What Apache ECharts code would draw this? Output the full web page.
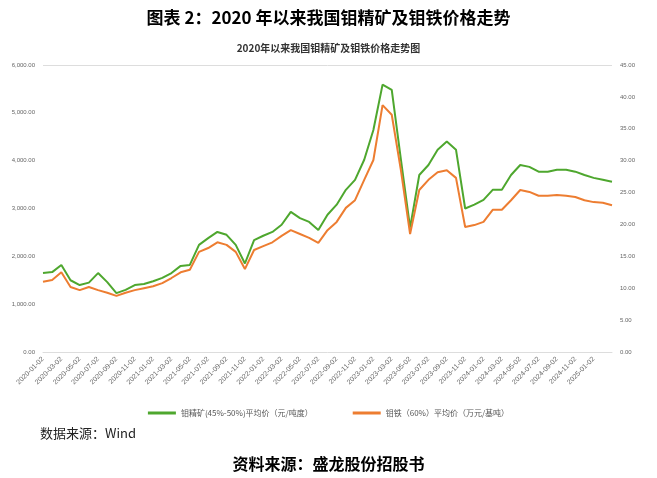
<!DOCTYPE html><html><head><meta charset="utf-8">
<script src="https://cdn.jsdelivr.net/npm/echarts@6/dist/echarts.min.js"></script>
<style>body{margin:0;background:#fff}#c{width:657px;height:478px}</style></head><body><div id="c"></div>
<script>
const months=[];
for(let y=2020;y<=2025;y++)for(let m=1;m<=12;m++){if(y===2025&&m>3)break;months.push(y+'-'+String(m).padStart(2,'0')+'-02');}
const moConc=[1650,1670,1820,1500,1400,1450,1650,1460,1230,1300,1400,1420,
1480,1550,1650,1800,1820,2240,2380,2510,2450,2240,1850,2340,
2430,2510,2660,2930,2800,2720,2550,2870,3080,3390,3600,4020,
4640,5590,5480,4020,2600,3700,3910,4230,4400,4230,3000,3080,
3180,3390,3390,3700,3910,3870,3770,3770,3810,3810,3770,3700,
3640,3600,3560];
const feMo=[11.0,11.3,12.5,10.2,9.7,10.2,9.7,9.3,8.8,9.3,9.7,10.0,
10.3,10.8,11.6,12.5,12.9,15.7,16.3,17.2,16.8,15.7,13.0,16.0,
16.6,17.2,18.2,19.1,18.5,17.9,17.1,19.1,20.4,22.6,23.8,27.0,
30.1,38.7,37.2,28.5,18.5,25.4,27.0,28.2,28.5,27.3,19.6,19.9,
20.4,22.3,22.3,23.8,25.4,25.1,24.5,24.5,24.6,24.5,24.3,23.8,
23.5,23.4,23.0];
const serif='"Noto Sans CJK SC", sans-serif';
const ch=echarts.init(document.getElementById('c'));
const fmt=v=>v.toLocaleString('en-US',{minimumFractionDigits:2,maximumFractionDigits:2});
ch.setOption({
 animation:false,
 title:[{text:'图表 2：2020 年以来我国钼精矿及钼铁价格走势',left:'center',top:4,textStyle:{fontFamily:serif,fontSize:17,fontWeight:'bold',color:'#000'}},
  {text:'2020年以来我国钼精矿及钼铁价格走势图',left:'center',top:38,textStyle:{fontFamily:serif,fontSize:10,fontWeight:'bold',color:'#333'}}],
 graphic:[{type:'text',left:40,top:427,style:{text:'数据来源：Wind',font:'13px '+serif,fill:'#222'}},
  {type:'text',left:'center',top:456,style:{text:'资料来源：盛龙股份招股书',font:'bold 16px '+serif,fill:'#000'}}],
 legend:{top:404,left:'center',itemWidth:28,itemHeight:3,icon:'rect',itemGap:40,textStyle:{fontSize:8,color:'#555',fontFamily:serif},
  data:['钼精矿(45%-50%)平均价（元/吨度）','钼铁（60%）平均价（万元/基吨）']},
 grid:{left:43,right:45,top:65,bottom:126},
 xAxis:{type:'category',data:months,boundaryGap:false,axisLine:{lineStyle:{color:'#ddd'}},axisTick:{show:false},
  axisLabel:{interval:(i)=>i%2===0&&i<=60,rotate:45,fontSize:7,color:'#666',margin:6}},
 yAxis:[{type:'value',min:0,max:6000,interval:1000,axisLabel:{formatter:fmt,fontSize:6,color:'#666'},splitLine:{show:false},axisLine:{show:false}},
  {type:'value',min:0,max:45,interval:5,axisLabel:{formatter:v=>v.toFixed(2),fontSize:6,color:'#666'},splitLine:{show:false},axisLine:{show:false}}],
 series:[{name:'钼精矿(45%-50%)平均价（元/吨度）',type:'line',data:moConc,yAxisIndex:0,showSymbol:false,lineStyle:{width:2,color:'#4ea72e'},itemStyle:{color:'#4ea72e'},
   markLine:{silent:true,symbol:'none',label:{show:false},lineStyle:{color:'#ddd',type:'solid',width:1},data:[{yAxis:6000}]}},
  {name:'钼铁（60%）平均价（万元/基吨）',type:'line',data:feMo,yAxisIndex:1,showSymbol:false,lineStyle:{width:2,color:'#ed7d31'},itemStyle:{color:'#ed7d31'}}]
});
</script></body></html>
